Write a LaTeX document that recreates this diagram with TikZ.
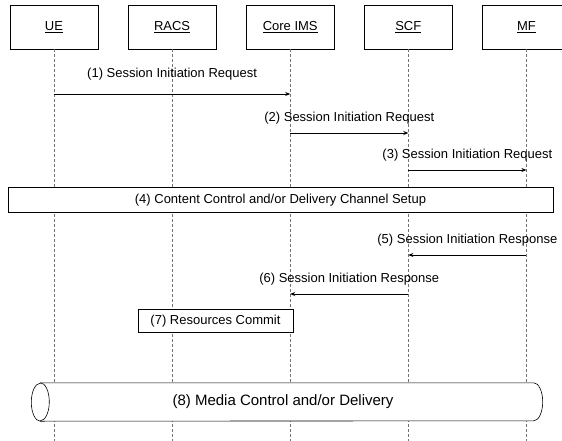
\documentclass[tikz,border=0pt]{standalone}
\usepackage{fontspec}
\setmainfont{Liberation Sans}
\usetikzlibrary{positioning, calc, arrows.meta}

\begin{document}
\begin{tikzpicture}[
        x=1pt, y=-1pt,
        >={Stealth[length=5pt, width=4pt]},
        hdr/.style={draw, line width=0.6pt, fill=white, minimum width=88pt,
                    minimum height=44pt, font=\fontsize{13}{15}\selectfont},
        life/.style={densely dashed, black!55, line width=0.5pt},
        msg/.style={->, line width=0.7pt},
        lbl/.style={above=8pt, inner sep=0pt, font=\fontsize{13}{15}\selectfont},
        phase/.style={draw, line width=0.6pt, fill=white, font=\fontsize{13}{15}\selectfont},
        cyl/.style={draw, line width=0.6pt},
    ]
        \useasboundingbox (0,0) rectangle (562,441);

        % entities
        \node[hdr]                      (ue)   at (54,27) {\underline{UE}};
        \node[hdr, right=29.5pt of ue]  (racs) {\underline{RACS}};
        \node[hdr, right=29.5pt of racs](ims)  {\underline{Core IMS}};
        \node[hdr, right=29.5pt of ims] (scf)  {\underline{SCF}};
        \node[hdr, right=29.5pt of scf] (mf)   {\underline{MF}};

        % message rows
        \coordinate (r1)  at (0,94);
        \coordinate (r2)  at (0,133);
        \coordinate (r3)  at (0,170);
        \coordinate (r5)  at (0,255);
        \coordinate (r6)  at (0,294);
        \coordinate (bot) at (0,441);

        % lifelines
        \foreach \n in {ue, racs, ims, scf, mf}
            \draw[life] (\n) -- (\n |- bot);

        % requests
        \draw[msg] (ue |- r1) -- node[lbl, above=13pt] {(1) Session Initiation Request} (ims |- r1);
        \draw[msg] (ims |- r2) -- node[lbl] {(2) Session Initiation Request} (scf |- r2);
        \draw[msg] (scf |- r3) -- node[lbl] {(3) Session Initiation Request} (mf |- r3);

        % (4) channel setup
        \node[phase, minimum width=545pt, minimum height=25pt] (setup) at (280.5,200)
            {(4) Content Control and/or Delivery Channel Setup};

        % responses
        \draw[msg] (mf |- r5) -- node[lbl] {(5) Session Initiation Response} (scf |- r5);
        \draw[msg] (scf |- r6) -- node[lbl] {(6) Session Initiation Response} (ims |- r6);

        % (7) resources
        \node[phase, minimum width=155pt, minimum height=23pt] (commit) at (215.5,321)
            {(7) Resources Commit};

        % (8) media, drawn as a lying cylinder
        \node[minimum width=511pt, minimum height=38pt] (media) at (287,402) {};
        \draw[cyl, fill=white] ([xshift=9pt]media.north west) -- ([xshift=-9pt]media.north east)
            arc[start angle=90, end angle=-90, x radius=9pt, y radius=19pt]
            -- ([xshift=9pt]media.south west)
            arc[start angle=270, end angle=90, x radius=9pt, y radius=19pt] -- cycle;
        \draw[cyl] ([xshift=9pt]media.north west)
            arc[start angle=90, end angle=-90, x radius=9pt, y radius=19pt];
        \node[font=\fontsize{15}{18}\selectfont] (medialbl) at ([xshift=-4pt]media.center)
            {(8) Media Control and/or Delivery};
    \end{tikzpicture}
\end{document}
